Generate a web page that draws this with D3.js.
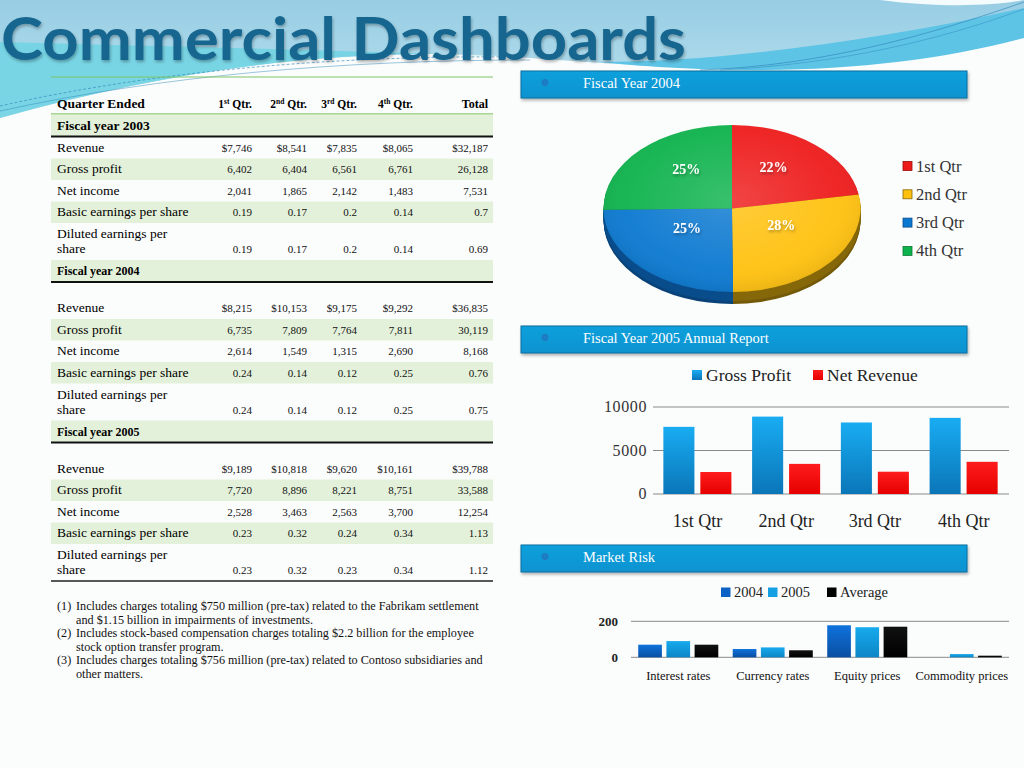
<!DOCTYPE html>
<html><head><meta charset="utf-8">
<script src="https://cdn.jsdelivr.net/npm/d3@7"></script>
<style>body{margin:0;background:#fcfcfc}svg{display:block}</style>
</head><body><svg id="c" width="1024" height="768"></svg>
<script>
// ---------------- DATA ----------------
const titleText = "Commercial Dashboards";
const quarterNums = ["1", "2", "3", "4"];
const quarterSups = ["st", "nd", "rd", "th"];
const rowLabels = ["Revenue", "Gross profit", "Net income", "Basic earnings per share", ["Diluted earnings per", "share"]];
const fyTitles = ["Fiscal year 2003", "Fiscal year 2004", "Fiscal year 2005"];

const fy2003Revenue = [7746, 8541, 7835, 8065, 32187];
const fy2003Gross   = [6402, 6404, 6561, 6761, 26128];
const fy2003Net     = [2041, 1865, 2142, 1483, 7531];
const fy2003Basic   = [0.19, 0.17, 0.2, 0.14, 0.7];
const fy2003Diluted = [0.19, 0.17, 0.2, 0.14, 0.69];

const fy2004Revenue = [8215, 10153, 9175, 9292, 36835];
const fy2004Gross   = [6735, 7809, 7764, 7811, 30119];
const fy2004Net     = [2614, 1549, 1315, 2690, 8168];
const fy2004Basic   = [0.24, 0.14, 0.12, 0.25, 0.76];
const fy2004Diluted = [0.24, 0.14, 0.12, 0.25, 0.75];

const fy2005Revenue = [9189, 10818, 9620, 10161, 39788];
const fy2005Gross   = [7720, 8896, 8221, 8751, 33588];
const fy2005Net     = [2528, 3463, 2563, 3700, 12254];
const fy2005Basic   = [0.23, 0.32, 0.24, 0.34, 1.13];
const fy2005Diluted = [0.23, 0.32, 0.23, 0.34, 1.12];

const footnoteLines = [
  ["Includes charges totaling $750 million (pre-tax) related to the Fabrikam settlement", "and $1.15 billion in impairments of investments."],
  ["Includes stock-based compensation charges totaling $2.2 billion for the employee", "stock option transfer program."],
  ["Includes charges totaling $756 million (pre-tax) related to Contoso subsidiaries and", "other matters."]
];

const panelTitles = ["Fiscal Year 2004", "Fiscal Year 2005 Annual Report", "Market Risk"];

const pieLabels = ["1st Qtr", "2nd Qtr", "3rd Qtr", "4th Qtr"];
const pieValues = [8215, 10153, 9175, 9292];

const barCategories = ["1st Qtr", "2nd Qtr", "3rd Qtr", "4th Qtr"];
const barSeries = ["Gross Profit", "Net Revenue"];
const grossProfit = [7720, 8896, 8221, 8751];
const netRevenue  = [2528, 3463, 2563, 3700];
const barTicks = [0, 5000, 10000];

const riskCategories = ["Interest rates", "Currency rates", "Equity prices", "Commodity prices"];
const riskSeries = ["2004", "2005", "Average"];
const risk2004 = [70, 46, 178, 0];
const risk2005 = [90, 55, 167, 18];
const riskAverage = [70, 39, 170, 9];
const riskTicks = [0, 200];

// ---------------- DRAW ----------------
const svg = d3.select("#c");
const defs = svg.append("defs");
function lin(id, stops, x2 = 0, y2 = 1) {
  const g = defs.append("linearGradient").attr("id", id)
    .attr("x1", 0).attr("y1", 0).attr("x2", x2).attr("y2", y2);
  stops.forEach(([o, c]) => g.append("stop").attr("offset", o).attr("stop-color", c));
}
lin("skyG", [[0, "#97cde4"], [1, "#bde3ef"]]);
lin("blueBar", [[0, "#19acf2"], [1, "#0a76b8"]]);
lin("redBar", [[0, "#ff1c1c"], [1, "#e60000"]]);
lin("r04", [[0, "#0f72dc"], [1, "#0a4fa3"]]);
lin("r05", [[0, "#17aaee"], [1, "#0c86c6"]]);
lin("avg", [[0, "#111"], [1, "#000"]]);
lin("hdrG", [[0, "#0aa0dc"], [1, "#0893d0"]]);
const sh = defs.append("filter").attr("id", "sh").attr("x", "-10%").attr("y", "-20%").attr("width", "130%").attr("height", "160%");
sh.append("feDropShadow").attr("dx", 1).attr("dy", 2).attr("stdDeviation", 1.5).attr("flood-color", "#000").attr("flood-opacity", 0.3);
const rg = defs.append("radialGradient").attr("id", "gloss").attr("cx", "0.5").attr("cy", "0.45").attr("r", "0.6");
rg.append("stop").attr("offset", 0).attr("stop-color", "#fff").attr("stop-opacity", 0.18);
rg.append("stop").attr("offset", 0.7).attr("stop-color", "#fff").attr("stop-opacity", 0.05);
rg.append("stop").attr("offset", 1).attr("stop-color", "#000").attr("stop-opacity", 0.12);

// background
svg.append("rect").attr("width", 1024).attr("height", 768).attr("fill", "#fbfcfc");
svg.append("path").attr("d", "M0,0 H1024 V12 C960,42 880,62 790,67 C690,72 600,62 500,56 C340,47 170,70 0,118 Z").attr("fill", "url(#skyG)");
svg.append("path").attr("d", "M0,42 C150,46 330,50 500,56 C340,47 170,70 0,118 Z").attr("fill", "#72d4e3").attr("opacity", 0.9);
svg.append("path").attr("d", "M600,62 C720,62 880,40 1024,8 L1024,38 C950,58 860,70 760,70 C690,70 640,66 600,62 Z").attr("fill", "#5ec4e6");
svg.append("path").attr("d", "M880,0 C940,8 995,6 1024,0 Z").attr("fill", "#f4fbfd");
[["M0,106 C150,72 330,55 520,57", 0.8, "3,2"], ["M0,111 C160,76 340,60 530,60", 0.6, null],
 ["M700,70 C820,66 930,35 1024,2", 0.8, null], ["M720,70 C840,64 940,40 1024,9", 0.6, null]]
  .forEach(([d, w, da]) => svg.append("path").attr("d", d).attr("fill", "none").attr("stroke", "#2f86ba").attr("stroke-width", w).attr("stroke-dasharray", da).attr("opacity", 0.8));

// title
svg.append("text").attr("x", 1).attr("y", 60).attr("font-family", "Lato, 'Open Sans', sans-serif").attr("font-weight", 700)
  .attr("font-size", 60).attr("fill", "#15668f").attr("textLength", 685).attr("lengthAdjust", "spacingAndGlyphs")
  .attr("filter", "url(#sh)").text(titleText);

// ---------------- TABLE ----------------
const serif = "'Liberation Serif', 'Times New Roman', serif";
const tL = 51, tR = 493, labX = 57;
const colX = [252, 307, 357, 413, 488];
const greenBand = "#e4f1da";
const tbl = svg.append("g").attr("font-family", serif).attr("fill", "#000");
tbl.append("line").attr("x1", tL).attr("x2", tR).attr("y1", 77).attr("y2", 77).attr("stroke", "#7fc466").attr("stroke-width", 1);
tbl.append("text").attr("x", labX).attr("y", 108).attr("font-size", 13.5).attr("font-weight", 700).text("Quarter Ended");
quarterNums.forEach((n, i) => {
  const t = tbl.append("text").attr("x", colX[i]).attr("y", 108).attr("text-anchor", "end").attr("font-size", 11.5).attr("font-weight", 700);
  t.append("tspan").text(n);
  t.append("tspan").attr("font-size", 7.5).attr("dy", -4).text(quarterSups[i]);
  t.append("tspan").attr("dy", 4).text(" Qtr.");
});
tbl.append("text").attr("x", colX[4]).attr("y", 108).attr("text-anchor", "end").attr("font-size", 12).attr("font-weight", 700).text("Total");
tbl.append("line").attr("x1", tL).attr("x2", tR).attr("y1", 114).attr("y2", 114).attr("stroke", "#8dc96b").attr("stroke-width", 1.5);

const fyData = [
  [fy2003Revenue, fy2003Gross, fy2003Net, fy2003Basic, fy2003Diluted],
  [fy2004Revenue, fy2004Gross, fy2004Net, fy2004Basic, fy2004Diluted],
  [fy2005Revenue, fy2005Gross, fy2005Net, fy2005Basic, fy2005Diluted]
];
const fmt = [v => "$" + d3.format(",")(v), d3.format(","), d3.format(","), v => String(v), v => String(v)];
let y = 114.5;
fyData.forEach((rows, s) => {
  tbl.append("rect").attr("x", tL).attr("y", y).attr("width", tR - tL).attr("height", 21.5).attr("fill", greenBand);
  tbl.append("text").attr("x", labX).attr("y", y + 15).attr("font-size", s === 0 ? 13.5 : 12).attr("font-weight", 700).text(fyTitles[s]);
  y += 21.5;
  tbl.append("line").attr("x1", tL).attr("x2", tR).attr("y1", y + 0.5).attr("y2", y + 0.5).attr("stroke", "#111").attr("stroke-width", 2);
  y += 1;
  rows.forEach((vals, r) => {
    let h = 21.5;
    if (r === 4) h = 37;
    if (r === 0 && s > 0) h = 36.5;
    if (r === 1 || r === 3) tbl.append("rect").attr("x", tL).attr("y", y).attr("width", tR - tL).attr("height", h).attr("fill", greenBand);
    const base = y + h - 7;
    const lab = rowLabels[r];
    if (Array.isArray(lab)) {
      tbl.append("text").attr("x", labX).attr("y", base - 15).attr("font-size", 13.5).text(lab[0]);
      tbl.append("text").attr("x", labX).attr("y", base).attr("font-size", 13.5).text(lab[1]);
    } else {
      tbl.append("text").attr("x", labX).attr("y", base).attr("font-size", 13.5).text(lab);
    }
    vals.forEach((v, c) => {
      tbl.append("text").attr("x", colX[c]).attr("y", base).attr("text-anchor", "end").attr("font-size", 11).attr("fill", "#111").text(fmt[r](v));
    });
    y += h;
  });
});
tbl.append("line").attr("x1", tL).attr("x2", tR).attr("y1", y).attr("y2", y).attr("stroke", "#222").attr("stroke-width", 1.5);

// footnotes
const fn = svg.append("g").attr("font-family", serif).attr("font-size", 12.2).attr("fill", "#111");
footnoteLines.forEach((lines, i) => {
  const y0 = 610 + i * 27;
  fn.append("text").attr("x", 57).attr("y", y0).text("(" + (i + 1) + ")");
  lines.forEach((ln, j) => fn.append("text").attr("x", 76).attr("y", y0 + j * 13.5).text(ln));
});

// ---------------- PANEL HEADERS ----------------
const hdrY = [71, 326, 545];
panelTitles.forEach((t, i) => {
  const g = svg.append("g");
  g.append("rect").attr("x", 521).attr("y", hdrY[i]).attr("width", 446).attr("height", 27)
    .attr("fill", "url(#hdrG)").attr("stroke", "#0d6d9e").attr("stroke-width", 1).attr("filter", "url(#sh)");
  g.append("circle").attr("cx", 545).attr("cy", hdrY[i] + 11.5).attr("r", 3).attr("fill", "#1a7fc8").attr("stroke", "#2a6fb0").attr("stroke-width", 0.8);
  g.append("text").attr("x", 583).attr("y", hdrY[i] + 17).attr("font-family", serif).attr("font-size", 14.5).attr("fill", "#fff").text(t);
});

// ---------------- PIE ----------------
const cx = 732, cy = 208.5, rx = 128.5, ry = 83.5, depth = 12;
const pieTop = ["#ee1b1b", "#ffc10e", "#0a78d0", "#0db24c"];
const pieSide = ["#9a0c0c", "#86680a", "#0a4d8c", "#0a7a36"];
const pieGen = d3.pie().sort(null).value(d => d);
const arcs = pieGen(pieValues);
const arcGen = d3.arc().innerRadius(0).outerRadius(1);
for (let k = depth; k >= 1; k--) {
  svg.append("g").attr("transform", `translate(${cx},${cy + k}) scale(${rx},${ry})`)
    .selectAll("path").data(arcs).join("path").attr("d", arcGen).attr("fill", (d, i) => d3.color(pieSide[i]).darker(k > depth - 3 ? 0.4 : 0));
}
const topG = svg.append("g").attr("transform", `translate(${cx},${cy}) scale(${rx},${ry})`);
topG.selectAll("path").data(arcs).join("path").attr("d", arcGen).attr("fill", (d, i) => pieTop[i]);
topG.append("circle").attr("r", 1).attr("fill", "url(#gloss)");
const total = d3.sum(pieValues);
const pct = d3.format(".0%");
const labArc = d3.arc().innerRadius(0.5).outerRadius(0.5);
svg.append("g").selectAll("text").data(arcs).join("text")
  .attr("x", d => cx + labArc.centroid(d)[0] * rx)
  .attr("y", d => cy + labArc.centroid(d)[1] * ry - 5)
  .attr("text-anchor", "middle").attr("font-family", serif).attr("font-weight", 700).attr("font-size", 14)
  .attr("fill", "#fff").attr("filter", "url(#sh)")
  .text(d => pct(d.value / total));
const pl = svg.append("g").attr("font-family", serif);
pieLabels.forEach((l, i) => {
  const yy = 166 + i * 28.3;
  pl.append("rect").attr("x", 903).attr("y", yy - 4.5).attr("width", 9).attr("height", 9).attr("fill", pieTop[i]).attr("stroke", pieSide[i]).attr("stroke-width", 0.8);
  pl.append("text").attr("x", 916).attr("y", yy + 5.5).attr("font-size", 16.5).attr("fill", "#333").text(l);
});

// ---------------- BAR CHART ----------------
const bx = d3.scaleBand().domain(barCategories).range([653, 1008]);
const by = d3.scaleLinear().domain([0, 10000]).range([494, 407]);
const bx1 = d3.scaleBand().domain(barSeries).range([0, bx.bandwidth()]).paddingInner(0.16).paddingOuter(0.28);
const bc = svg.append("g");
bc.selectAll("line.g").data(barTicks).join("line").attr("x1", 653).attr("x2", 1009)
  .attr("y1", d => by(d)).attr("y2", d => by(d)).attr("stroke", "#8a8a8a").attr("stroke-width", 1);
bc.selectAll("text.t").data(barTicks).join("text").attr("x", 647).attr("y", d => by(d) + 5)
  .attr("text-anchor", "end").attr("font-family", serif).attr("font-size", 16).attr("letter-spacing", 0.6).attr("fill", "#333").text(d => d);
const barData = [grossProfit, netRevenue];
const barFill = ["url(#blueBar)", "url(#redBar)"];
barSeries.forEach((s, si) => {
  bc.selectAll(null).data(barData[si]).join("rect")
    .attr("x", (d, i) => bx(barCategories[i]) + bx1(s)).attr("width", bx1.bandwidth())
    .attr("y", d => by(d)).attr("height", d => by(0) - by(d)).attr("fill", barFill[si]);
});
bc.selectAll("text.x").data(barCategories).join("text").attr("x", d => bx(d) + bx.bandwidth() / 2).attr("y", 527)
  .attr("text-anchor", "middle").attr("font-family", serif).attr("font-size", 18).attr("fill", "#222").text(d => d);
const blx = [692, 813];
barSeries.forEach((s, i) => {
  bc.append("rect").attr("x", blx[i]).attr("y", 370).attr("width", 10).attr("height", 10).attr("fill", barFill[i]);
  bc.append("text").attr("x", blx[i] + 14).attr("y", 381).attr("font-family", serif).attr("font-size", 17.5).attr("fill", "#222").text(s);
});

// ---------------- MARKET RISK ----------------
const mx = d3.scaleBand().domain(riskCategories).range([631, 1009]);
const my = d3.scaleLinear().domain([0, 200]).range([657.3, 621.3]);
const mx1 = d3.scaleBand().domain(riskSeries).range([0, mx.bandwidth()]).paddingInner(0.16).paddingOuter(0.256);
const mr = svg.append("g");
mr.selectAll("line").data(riskTicks).join("line").attr("x1", 631).attr("x2", 1009)
  .attr("y1", d => my(d)).attr("y2", d => my(d)).attr("stroke", "#8a8a8a").attr("stroke-width", 1);
mr.selectAll("text.t").data(riskTicks).join("text").attr("x", 618).attr("y", d => my(d) + 4.5)
  .attr("text-anchor", "end").attr("font-family", serif).attr("font-weight", 700).attr("font-size", 13).attr("fill", "#222").text(d => d);
const riskData = [risk2004, risk2005, riskAverage];
const riskFill = ["url(#r04)", "url(#r05)", "url(#avg)"];
const riskSolid = ["#0c62c4", "#14a0e2", "#000"];
riskSeries.forEach((s, si) => {
  mr.selectAll(null).data(riskData[si]).join("rect")
    .attr("x", (d, i) => mx(riskCategories[i]) + mx1(s)).attr("width", mx1.bandwidth())
    .attr("y", d => my(d)).attr("height", d => my(0) - my(d)).attr("fill", riskFill[si]);
});
mr.selectAll("text.x").data(riskCategories).join("text").attr("x", d => mx(d) + mx.bandwidth() / 2).attr("y", 680)
  .attr("text-anchor", "middle").attr("font-family", serif).attr("font-size", 12.5).attr("fill", "#111").text(d => d);
const mlx = [721, 768, 827];
riskSeries.forEach((s, i) => {
  mr.append("rect").attr("x", mlx[i]).attr("y", 587.5).attr("width", 9.5).attr("height", 9.5).attr("fill", riskSolid[i]);
  mr.append("text").attr("x", mlx[i] + 13).attr("y", 597).attr("font-family", serif).attr("font-size", 14.5).attr("fill", "#222").text(s);
});
</script></body></html>
